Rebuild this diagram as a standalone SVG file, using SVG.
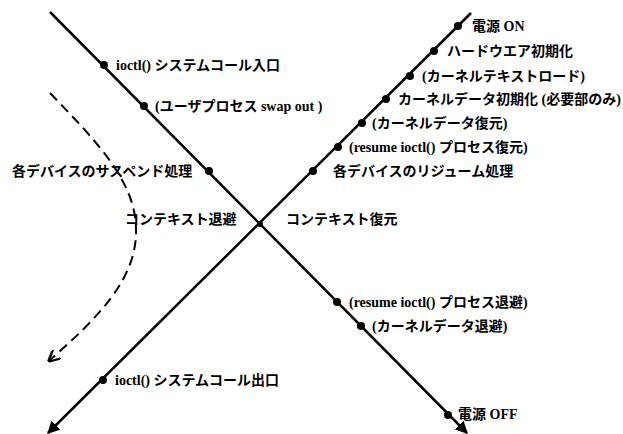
<svg xmlns="http://www.w3.org/2000/svg" width="623" height="434" viewBox="0 0 623 434">
<style>
.ln{stroke:#000;stroke-width:2.5;fill:none}
.dash{stroke:#000;stroke-width:2;fill:none;stroke-dasharray:10 6}
.dot{fill:#000}
text{font-family:"Liberation Serif","Noto Sans CJK JP",serif;font-size:14px;font-weight:bold;fill:#000}
</style>
<defs>
<marker id="ah" viewBox="0 0 10 10" refX="9" refY="5" markerWidth="5" markerHeight="5" orient="auto" markerUnits="strokeWidth">
<path d="M0,0 L10,5 L0,10 z" fill="#000"/>
</marker>
<marker id="ahd" viewBox="0 0 10 10" refX="9" refY="5" markerWidth="6" markerHeight="6" orient="auto" markerUnits="strokeWidth">
<path d="M0,0 L10,5 L0,10" fill="none" stroke="#000" stroke-width="2"/>
</marker>
</defs>
<rect width="623" height="434" fill="#fff"/>
<g id="connectors">
<line class="ln" x1="50" y1="12" x2="467" y2="433" marker-end="url(#ah)"/>
<line class="ln" x1="471" y1="13" x2="48" y2="433" marker-end="url(#ah)"/>
<path class="dash" d="M50,93 C95,140 135,180 136,228 C138,280 95,320 49,361" marker-end="url(#ahd)"/>
</g>
<g id="n-entry"><circle class="dot" cx="104" cy="65" r="4"/><text x="116" y="70">ioctl() システムコール入口</text></g>
<g id="n-swapout"><circle class="dot" cx="144" cy="106" r="4"/><text x="155" y="111">(ユーザプロセス swap out )</text></g>
<g id="n-suspend"><circle class="dot" cx="209" cy="171" r="4"/><text x="12" y="176">各デバイスのサスペンド処理</text></g>
<g id="n-cross"><circle class="dot" cx="260" cy="224" r="3"/><text x="125" y="224">コンテキスト退避</text><text x="286" y="224">コンテキスト復元</text></g>
<g id="n-poweron"><circle class="dot" cx="458" cy="26" r="4"/><text x="472" y="31">電源 ON</text></g>
<g id="n-hwinit"><circle class="dot" cx="434" cy="51" r="4"/><text x="447" y="56">ハードウエア初期化</text></g>
<g id="n-ktext"><circle class="dot" cx="410" cy="76" r="4"/><text x="422" y="81">(カーネルテキストロード)</text></g>
<g id="n-kdinit"><circle class="dot" cx="386" cy="99" r="4"/><text x="398" y="104">カーネルデータ初期化 (必要部のみ)</text></g>
<g id="n-kdrestore"><circle class="dot" cx="362" cy="123" r="4"/><text x="372" y="128">(カーネルデータ復元)</text></g>
<g id="n-procrestore"><circle class="dot" cx="338" cy="147" r="4"/><text x="349" y="152">(resume ioctl() プロセス復元)</text></g>
<g id="n-resume"><circle class="dot" cx="313" cy="171" r="4"/><text x="333" y="176">各デバイスのリジューム処理</text></g>
<g id="n-procsave"><circle class="dot" cx="337" cy="302" r="4"/><text x="349" y="307">(resume ioctl() プロセス退避)</text></g>
<g id="n-kdsave"><circle class="dot" cx="361" cy="326" r="4"/><text x="372" y="331">(カーネルデータ退避)</text></g>
<g id="n-poweroff"><circle class="dot" cx="448" cy="415" r="4"/><text x="458" y="419">電源 OFF</text></g>
<g id="n-exit"><circle class="dot" cx="103" cy="380" r="4"/><text x="115" y="385">ioctl() システムコール出口</text></g>
</svg>
